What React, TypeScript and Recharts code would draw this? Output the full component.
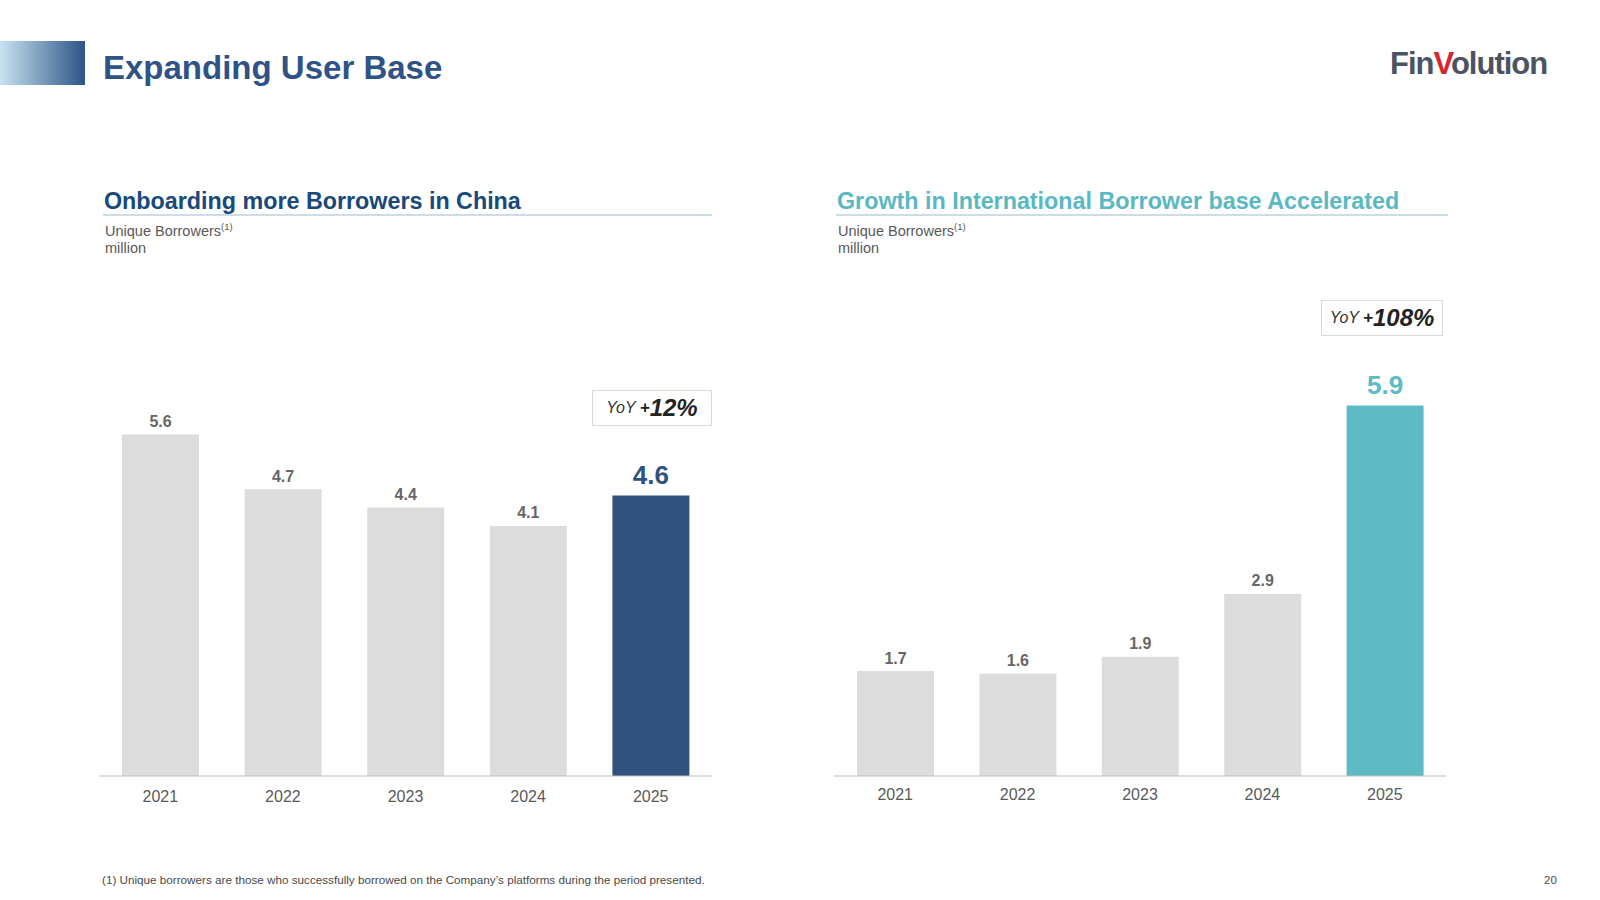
import React from "react";
import { Bar, BarChart, Cell, LabelList, XAxis, YAxis } from "recharts";

const years = ["2021", "2022", "2023", "2024", "2025"];
const chinaBorrowers = [5.6, 4.7, 4.4, 4.1, 4.6];
const intlBorrowers = [1.67, 1.63, 1.9, 2.9, 5.9];

const FONT = '"Liberation Sans", Arial, sans-serif';
const GREY_BAR = "#dcdcdc";
const NAVY = "#31527f";
const TEAL = "#5ebbc5";

const chinaData = years.map((year, i) => ({ year, value: chinaBorrowers[i] }));
const intlData = years.map((year, i) => ({ year, value: intlBorrowers[i] }));

interface ChartProps {
  data: { year: string; value: number }[];
  highlight: string;
  left: number;
  width: number;
  marginTop: number;
  tickMargin: number;
}

function BorrowerChart({ data, highlight, left, width, marginTop, tickMargin }: ChartProps) {
  const last = data.length - 1;
  const renderLabel = (props: any) => {
    const { x, y, width: w, value, index } = props;
    const big = index === last;
    return (
      <text
        x={x + w / 2}
        y={big ? y - 11 : y - 7.5}
        textAnchor="middle"
        fontFamily={FONT}
        fontWeight="bold"
        fontSize={big ? 26 : 16}
        fill={big ? highlight : "#666666"}
      >
        {value.toFixed(1)}
      </text>
    );
  };

  return (
    <div style={{ position: "absolute", left, top: 300 }}>
      <BarChart
        width={width}
        height={512}
        data={data}
        margin={{ top: marginTop, right: 0, bottom: 6, left: 0 }}
      >
        <YAxis hide domain={[0, 6.5]} />
        <XAxis
          dataKey="year"
          height={30}
          tickLine={false}
          tickMargin={tickMargin}
          axisLine={{ stroke: "#bfbfbf" }}
          tick={{ fill: "#595959", fontSize: 16, fontFamily: FONT }}
        />
        <Bar dataKey="value" barSize={77} isAnimationActive={false}>
          {data.map((d, i) => (
            <Cell key={d.year} fill={i === last ? highlight : GREY_BAR} />
          ))}
          <LabelList dataKey="value" content={renderLabel} />
        </Bar>
      </BarChart>
    </div>
  );
}

function SectionHeader({ left, width, title, color }: { left: number; width: number; title: string; color: string }) {
  return (
    <>
      <div
        style={{
          position: "absolute",
          left,
          top: 190,
          fontSize: 23.3,
          lineHeight: "23px",
          fontWeight: "bold",
          color,
          whiteSpace: "nowrap",
        }}
      >
        {title}
      </div>
      <div style={{ position: "absolute", left: left - 1, top: 214, width, height: 2, background: "#cddde6" }} />
      <div style={{ position: "absolute", left: left + 1, top: 218, fontSize: 14.5, lineHeight: "17px", color: "#595959" }}>
        Unique Borrowers<sup style={{ fontSize: 9.5 }}>(1)</sup>
        <br />
        million
      </div>
    </>
  );
}

function YoyBox({ left, top, width, pct }: { left: number; top: number; width: number; pct: string }) {
  return (
    <div
      style={{
        position: "absolute",
        left,
        top,
        width,
        height: 36,
        boxSizing: "border-box",
        border: "1px solid #d9d9d9",
        display: "flex",
        alignItems: "center",
        justifyContent: "center",
        fontStyle: "italic",
        color: "#222",
        whiteSpace: "nowrap",
      }}
    >
      <span style={{ fontSize: 16, marginRight: 4, color: "#333" }}>YoY</span>
      <span style={{ fontSize: 17, fontWeight: "bold" }}>+</span>
      <span style={{ fontSize: 24, fontWeight: "bold" }}>{pct}</span>
    </div>
  );
}

export default function App() {
  return (
    <div
      style={{
        position: "absolute",
        left: 0,
        top: 0,
        width: 1600,
        height: 900,
        background: "#ffffff",
        fontFamily: FONT,
        overflow: "hidden",
      }}
    >
      <div
        style={{
          position: "absolute",
          left: 0,
          top: 41,
          width: 85,
          height: 44,
          background: "linear-gradient(to right, #c9e2f2, #2b5587)",
        }}
      />
      <div
        style={{
          position: "absolute",
          left: 103,
          top: 51,
          fontSize: 33,
          lineHeight: "33px",
          fontWeight: "bold",
          color: "#2f5287",
          whiteSpace: "nowrap",
        }}
      >
        Expanding User Base
      </div>
      <div
        style={{
          position: "absolute",
          left: 1390,
          top: 48,
          fontSize: 31,
          lineHeight: "31px",
          fontWeight: "bold",
          letterSpacing: -1,
          color: "#4b5262",
          whiteSpace: "nowrap",
        }}
      >
        Fin<span style={{ color: "#d7262d" }}>V</span>olution
      </div>

      <SectionHeader left={104} width={609} title="Onboarding more Borrowers in China" color="#18497a" />
      <SectionHeader left={837} width={612} title="Growth in International Borrower base Accelerated" color="#5ab8c3" />

      <BorrowerChart data={chinaData} highlight={NAVY} left={99} width={613} marginTop={79.5} tickMargin={9} />
      <BorrowerChart data={intlData} highlight={TEAL} left={834} width={612} marginTop={67.8} tickMargin={7} />

      <YoyBox left={592} top={390} width={120} pct="12%" />
      <YoyBox left={1321} top={300} width={122} pct="108%" />

      <div style={{ position: "absolute", left: 102, top: 874, fontSize: 11.7, lineHeight: "12px", color: "#4a4a4a", whiteSpace: "nowrap" }}>
        (1) Unique borrowers are those who successfully borrowed on the Company’s platforms during the period presented.
      </div>
      <div style={{ position: "absolute", left: 1544, top: 874, fontSize: 11.5, lineHeight: "12px", color: "#4a4a4a" }}>20</div>
    </div>
  );
}
